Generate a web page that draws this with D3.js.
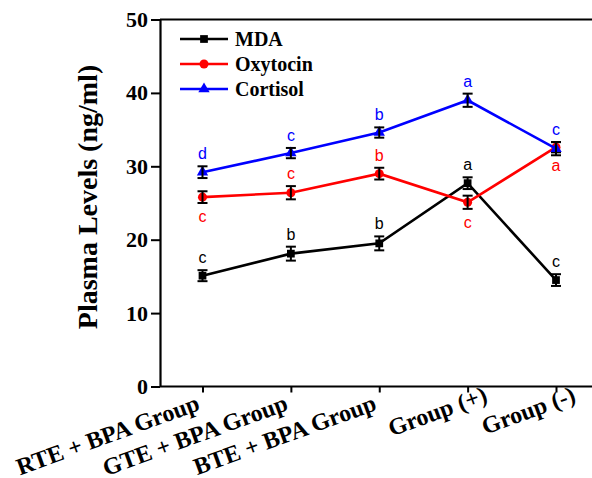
<!DOCTYPE html>
<html>
<head>
<meta charset="utf-8">
<script src="https://cdn.jsdelivr.net/npm/d3@7"></script>
<style>
  body { margin: 0; background: #fff; }
  svg { display: block; }
</style>
</head>
<body>
<svg id="chart" width="592" height="478"></svg>
<script>
// data
const categories = ["RTE + BPA Group", "GTE + BPA Group", "BTE + BPA Group", "Group (+)", "Group (-)"];
const seriesNames = ["MDA", "Oxytocin", "Cortisol"];
const mdaValues = [15.1, 18.1, 19.5, 27.7, 14.5];
const mdaErrors = [0.75, 0.95, 0.95, 0.8, 0.8];
const oxyValues = [25.8, 26.4, 29.0, 25.1, 32.6];
const oxyErrors = [0.8, 0.9, 0.8, 0.9, 0.7];
const cortValues = [29.2, 31.8, 34.6, 39.0, 32.4];
const cortErrors = [0.8, 0.7, 0.7, 0.9, 0.9];
const mdaLetters = ["c", "b", "b", "a", "c"];
const oxyLetters = ["c", "c", "b", "c", "a"];
const cortLetters = ["d", "c", "b", "a", "c"];
// true = letter sits below the point
const oxyBelow = [true, false, false, true, true];
const yTicks = [0, 10, 20, 30, 40, 50];

const series = [
  {name: seriesNames[0], values: mdaValues, errors: mdaErrors, letters: mdaLetters, below: [false, false, false, false, false], color: "#000000", symbol: d3.symbolSquare, size: 60},
  {name: seriesNames[1], values: oxyValues, errors: oxyErrors, letters: oxyLetters, below: oxyBelow, color: "#ff0000", symbol: d3.symbolCircle, size: 64},
  {name: seriesNames[2], values: cortValues, errors: cortErrors, letters: cortLetters, below: [false, false, false, false, false], color: "#0000ff", symbol: d3.symbolTriangle, size: 56}
];

const svg = d3.select("#chart");
const mLeft = 160, mTop = 19.5, mBottom = 386.5, mRight = 600;
const serif = "'Liberation Serif', 'Times New Roman', serif";
const sans = "'Liberation Sans', Arial, sans-serif";

const x = d3.scalePoint().domain(categories).range([202.5, 556]);
const y = d3.scaleLinear().domain([0, 50]).range([mBottom, mTop]);

// frame (top line, right side falls off the page)
svg.append("line").attr("x1", mLeft).attr("x2", mRight).attr("y1", mTop).attr("y2", mTop)
  .attr("stroke", "#000").attr("stroke-width", 2);

// y axis
const yAxis = svg.append("g").attr("transform", `translate(${mLeft},0)`)
  .call(d3.axisLeft(y).tickValues(yTicks).tickSize(9).tickPadding(3).tickSizeOuter(0));
yAxis.select(".domain").attr("stroke-width", 2.2);
yAxis.selectAll(".tick line").attr("stroke-width", 2);
yAxis.selectAll("text").attr("font-family", serif).attr("font-weight", "bold")
  .attr("font-size", 22).attr("fill", "#000");

// x axis
const xAxis = svg.append("g").attr("transform", `translate(0,${mBottom})`)
  .call(d3.axisBottom(x).tickSize(6).tickSizeOuter(0));
xAxis.select(".domain").attr("d", `M${mLeft},0H${mRight}`).attr("stroke-width", 2.2);
xAxis.selectAll(".tick line").attr("stroke-width", 2);
xAxis.selectAll("text")
  .attr("font-family", serif).attr("font-weight", "bold").attr("font-size", 24).attr("fill", "#000")
  .attr("text-anchor", "end")
  .attr("transform", "translate(-2,23) rotate(-20)")
  .attr("y", 0).attr("dy", 0)
  .attr("dx", d => d.startsWith("Group") ? 24 : 0);

// y title
svg.append("text")
  .attr("transform", `translate(97,197) rotate(-90)`)
  .attr("text-anchor", "middle")
  .attr("font-family", serif).attr("font-weight", "bold").attr("font-size", 28)
  .text("Plasma Levels (ng/ml)");

const line = d3.line().x((d, i) => x(categories[i])).y(d => y(d));

series.forEach(s => {
  const g = svg.append("g");
  g.append("path").datum(s.values).attr("d", line)
    .attr("fill", "none").attr("stroke", s.color).attr("stroke-width", 2.6);

  g.selectAll(".mk").data(s.values).join("path")
    .attr("transform", (d, i) => `translate(${x(categories[i])},${y(d)})`)
    .attr("d", d3.symbol().type(s.symbol).size(s.size))
    .attr("fill", s.color);

  const eb = g.selectAll(".eb").data(s.values).join("g")
    .attr("stroke", "#000").attr("stroke-width", 2);
  eb.append("line")
    .attr("x1", (d, i) => x(categories[i])).attr("x2", (d, i) => x(categories[i]))
    .attr("y1", (d, i) => y(d - s.errors[i])).attr("y2", (d, i) => y(d + s.errors[i]));
  eb.append("line")
    .attr("x1", (d, i) => x(categories[i]) - 5).attr("x2", (d, i) => x(categories[i]) + 5)
    .attr("y1", (d, i) => y(d + s.errors[i])).attr("y2", (d, i) => y(d + s.errors[i]));
  eb.append("line")
    .attr("x1", (d, i) => x(categories[i]) - 5).attr("x2", (d, i) => x(categories[i]) + 5)
    .attr("y1", (d, i) => y(d - s.errors[i])).attr("y2", (d, i) => y(d - s.errors[i]));

  g.selectAll(".lt").data(s.values).join("text")
    .attr("x", (d, i) => x(categories[i]))
    .attr("y", (d, i) => s.below[i] ? y(d - s.errors[i]) + 19 : y(d + s.errors[i]) - 7)
    .attr("text-anchor", "middle")
    .attr("font-family", sans).attr("font-size", 16).attr("fill", s.color)
    .text((d, i) => s.letters[i]);
});

// legend
const legend = svg.append("g").attr("transform", "translate(180,39)");
series.forEach((s, i) => {
  const row = legend.append("g").attr("transform", `translate(0,${i * 25})`);
  row.append("line").attr("x1", 0).attr("x2", 48).attr("stroke", s.color).attr("stroke-width", 2.6);
  row.append("path").attr("transform", "translate(24,0)")
    .attr("d", d3.symbol().type(s.symbol).size(s.size)).attr("fill", s.color);
  row.append("text").attr("x", 55).attr("dy", "0.35em")
    .attr("font-family", serif).attr("font-weight", "bold").attr("font-size", 20)
    .text(s.name);
});
</script>
</body>
</html>
